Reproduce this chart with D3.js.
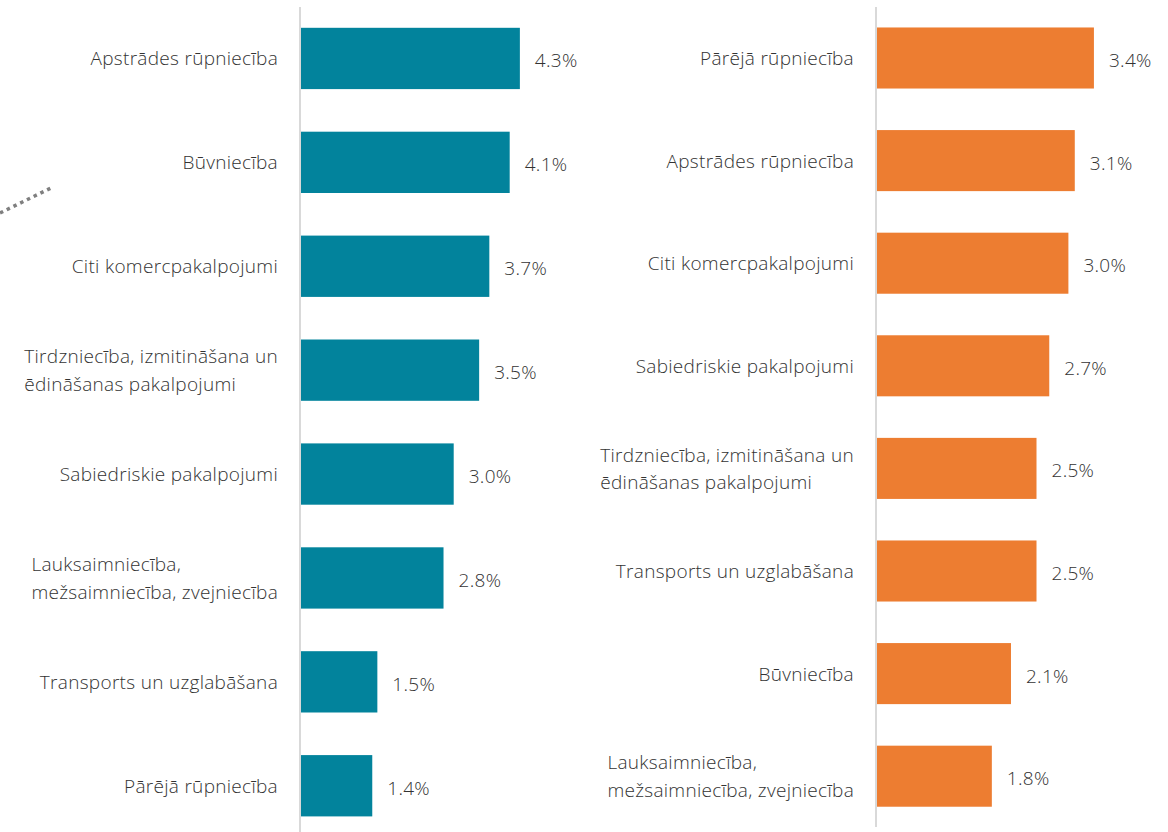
<!DOCTYPE html>
<html>
<head>
<meta charset="utf-8">
<script src="https://cdn.jsdelivr.net/npm/d3@7"></script>
<style>
    body { margin: 0; background: #fff; }
    text { font-family: "Open Sans", sans-serif; fill: #333333; font-weight: 300; }
    .cat { font-size: 19px; letter-spacing: 0.3px; }
    .val { font-size: 19px; letter-spacing: 0.3px; }
    .axisLine { stroke: #d9d9d9; stroke-width: 2; }
</style>
</head>
<body>
<svg width="1168" height="832"></svg>
<script>
// left panel
const leftCats = [
    "Apstrādes rūpniecība",
    "Būvniecība",
    "Citi komercpakalpojumi",
    "Tirdzniecība, izmitināšana un\nēdināšanas pakalpojumi",
    "Sabiedriskie pakalpojumi",
    "Lauksaimniecība,\nmežsaimniecība, zvejniecība",
    "Transports un uzglabāšana",
    "Pārējā rūpniecība"
]
const leftVals = [4.3, 4.1, 3.7, 3.5, 3.0, 2.8, 1.5, 1.4]

// right panel
const rightCats = [
    "Pārējā rūpniecība",
    "Apstrādes rūpniecība",
    "Citi komercpakalpojumi",
    "Sabiedriskie pakalpojumi",
    "Tirdzniecība, izmitināšana un\nēdināšanas pakalpojumi",
    "Transports un uzglabāšana",
    "Būvniecība",
    "Lauksaimniecība,\nmežsaimniecība, zvejniecība"
]
const rightVals = [3.4, 3.1, 3.0, 2.7, 2.5, 2.5, 2.1, 1.8]

const svg = d3.select("svg")

function drawPanel(cats, vals, opts) {
    const data = cats.map((c, i) => ({cat: c, val: vals[i]}))

    const x = d3.scaleLinear()
        .domain([0, 4.5])
        .range([opts.x0, opts.x0 + 4.5 * opts.pxPer])

    const y = d3.scaleBand()
        .domain(cats)
        .range(opts.yRange)
        .paddingInner(opts.pad)
        .paddingOuter(opts.pad / 2)

    const g = svg.append("g")

    g.append("line")
        .attr("class", "axisLine")
        .attr("x1", opts.x0 - 1)
        .attr("x2", opts.x0 - 1)
        .attr("y1", 7)
        .attr("y2", opts.axisEnd)

    g.selectAll("rect.bar")
        .data(data)
        .enter()
        .append("rect")
        .attr("class", "bar")
        .attr("x", x(0))
        .attr("y", d => y(d.cat))
        .attr("width", d => x(d.val) - x(0))
        .attr("height", y.bandwidth())
        .attr("fill", opts.color)

    g.selectAll("text.val")
        .data(data)
        .enter()
        .append("text")
        .attr("class", "val")
        .attr("x", d => x(d.val) + 15)
        .attr("y", d => y(d.cat) + y.bandwidth() / 2 + 9)
        .text(d => d3.format(".1f")(d.val) + "%")

    const labels = g.selectAll("text.cat")
        .data(data)
        .enter()
        .append("text")
        .attr("class", "cat")

    labels.each(function(d) {
        const lines = d.cat.split("\n")
        const t = d3.select(this)
        const cy = y(d.cat) + y.bandwidth() / 2
        const lh = 27.6
        lines.forEach((l, i) => {
            t.append("tspan")
                .attr("y", cy + 7 + (i - (lines.length - 1) / 2) * lh)
                .text(l)
        })
        // block is left aligned, right edge at label end
        let w = 0
        t.selectAll("tspan").each(function() { w = Math.max(w, this.getComputedTextLength()) })
        t.selectAll("tspan").attr("x", opts.labelRight - w)
    })
}

drawPanel(leftCats, leftVals, {
    x0: 301, pxPer: 50.9, yRange: [6.5, 837.7], pad: 0.41,
    color: "#02839c", labelRight: 278, axisEnd: 832
})

drawPanel(rightCats, rightVals, {
    x0: 877, pxPer: 63.8, yRange: [6.7, 827.5], pad: 0.405,
    color: "#ed7d31", labelRight: 854, axisEnd: 827
})

// dotted connector fragment at the left edge
svg.append("line")
    .attr("x1", 0).attr("y1", 213)
    .attr("x2", 53).attr("y2", 187)
    .attr("stroke", "#7f7f7f")
    .attr("stroke-width", 3.5)
    .attr("stroke-dasharray", "3.5 4")
</script>
</body>
</html>
